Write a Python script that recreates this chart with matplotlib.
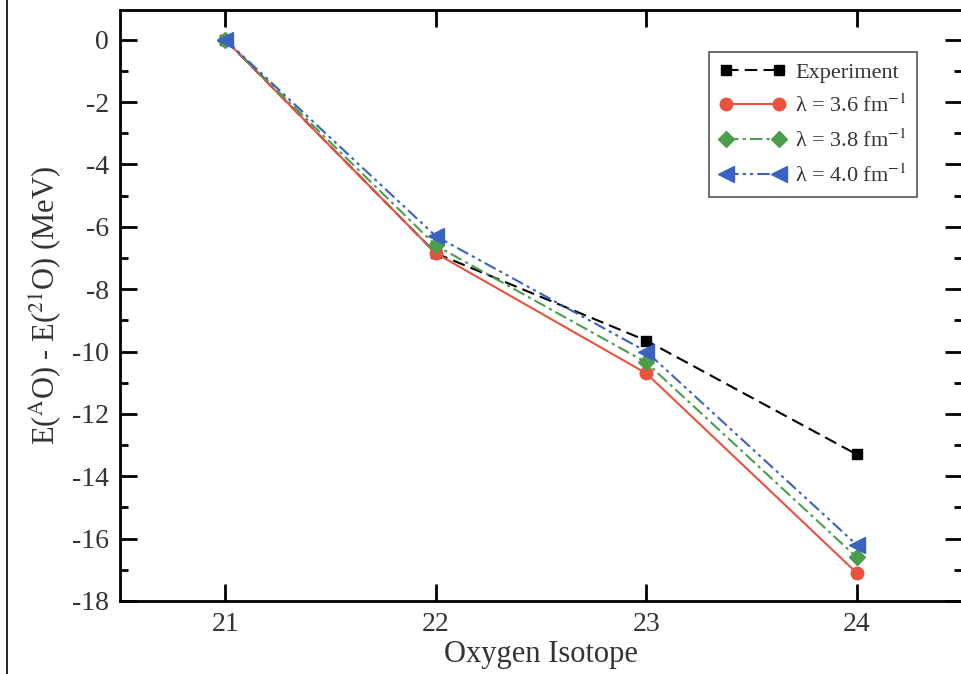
import matplotlib
matplotlib.use("Agg")
import matplotlib.pyplot as plt
from matplotlib.lines import Line2D
from matplotlib.ticker import MultipleLocator

plt.rcParams['font.family'] = ['Liberation Serif', 'DejaVu Serif']
plt.rcParams['mathtext.fontset'] = 'stix'
plt.rcParams['axes.unicode_minus'] = False

# data
isotopes = [21, 22, 23, 24]
experiment = [0.0, -6.85, -9.65, -13.3]
lam_36 = [0.0, -6.85, -10.7, -17.1]
lam_38 = [0.0, -6.6, -10.35, -16.6]
lam_40 = [0.0, -6.3, -10.0, -16.2]

labels = ['Experiment',
          'λ = 3.6 fm$^{-1}$',
          'λ = 3.8 fm$^{-1}$',
          'λ = 4.0 fm$^{-1}$']

fig = plt.figure(figsize=(9.61, 6.74), dpi=100)
ax = fig.add_axes([120 / 961, 73 / 674, 842 / 961, 591 / 674])

ax.plot(isotopes, experiment, color='black', ls=(0, (6, 3)), lw=1.5,
        marker='s', ms=7, label=labels[0])
ax.plot(isotopes, lam_36, color='#e8523e', ls='-', lw=1.5,
        marker='o', ms=9, label=labels[1])
ax.plot(isotopes, lam_38, color='#4c9d4c', ls=(0, (6, 2, 1.5, 2)), lw=1.5,
        marker='D', ms=8, label=labels[2])
ax.plot(isotopes, lam_40, color='#3a62c0', ls=(0, (6, 2, 1.5, 2, 1.5, 2)), lw=1.5,
        marker='<', ms=11, label=labels[3])

ax.set_xlim(20.5, 24.5)
ax.set_ylim(-18, 0.95)
ax.set_xticks(isotopes)
ax.yaxis.set_major_locator(MultipleLocator(2))
ax.yaxis.set_minor_locator(MultipleLocator(1))

for s in ax.spines.values():
    s.set_linewidth(2)
ax.tick_params(which='both', direction='in', top=True, right=True,
               labelsize=20, labelcolor='#333333', width=2)
ax.tick_params(which='major', length=12, pad=8)
ax.tick_params(which='minor', length=6)

ax.set_xlabel('Oxygen Isotope', fontsize=22, color='#333333', labelpad=2)
ax.set_ylabel(r'E($^{\mathrm{A}}$O) - E($^{\mathrm{21}}$O) (MeV)',
              fontsize=22, color='#333333', labelpad=6)

leg = ax.legend(loc='upper left', bbox_to_anchor=(0.70, 0.929), fontsize=16,
                numpoints=2, fancybox=False, framealpha=1, edgecolor='#555555',
                handlelength=3.0, borderpad=0.45, labelspacing=0.55,
                handletextpad=0.4, borderaxespad=0)
leg.get_frame().set_linewidth(1.2)
for t in leg.get_texts():
    t.set_color('#333333')

fig.add_artist(Line2D([0.0075, 0.0075], [0, 1], color='black', lw=1.2,
                      transform=fig.transFigure))

fig.savefig('out.png', dpi=100)
